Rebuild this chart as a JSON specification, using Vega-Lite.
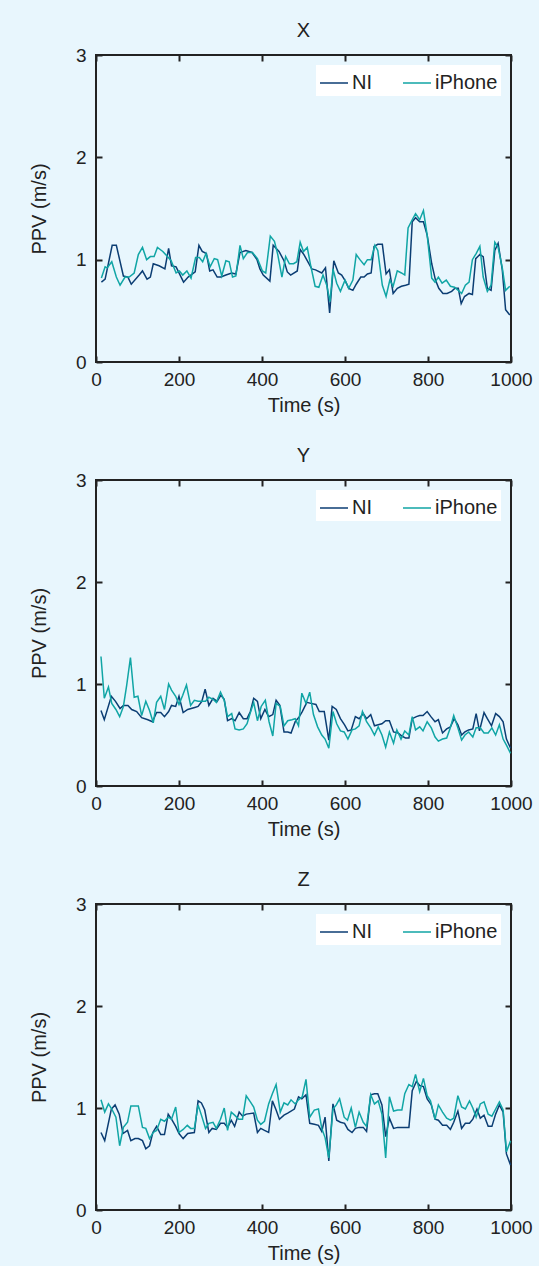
{
"$schema": "https://vega.github.io/schema/vega-lite/v6.json",
"background": "#e8f6fd",
"padding": {"left": 28, "top": 20, "right": 5, "bottom": 2},
"spacing": 29,
"config": {
  "font": "Liberation Sans",
  "view": {"stroke": "#222222", "strokeWidth": 2, "fill": "#e8f6fd"},
  "axis": {"grid": false, "domain": false, "tickColor": "#222222", "tickWidth": 2, "tickSize": -6, "labelFont": "Liberation Sans", "labelFontSize": 19, "labelColor": "#222222", "titleFont": "Liberation Sans", "titleFontSize": 20, "titleFontWeight": "normal", "titleColor": "#222222"},
  "title": {"font": "Liberation Sans", "fontSize": 20, "fontWeight": "normal", "color": "#222222", "offset": 5, "anchor": "middle", "frame": "group"},
  "legend": {"orient": "top-right", "direction": "horizontal", "fillColor": "white", "padding": 3, "offset": 10, "symbolType": "stroke", "symbolSize": 784, "symbolStrokeWidth": 1.5, "labelFont": "Liberation Sans", "labelFontSize": 20, "labelColor": "#222222", "columnPadding": 28, "labelOffset": 3}
},
"datasets": {
"X": [
{"series":"NI","time":13,"ppv":0.78},{"series":"NI","time":22,"ppv":0.81},{"series":"NI","time":39,"ppv":1.14},{"series":"NI","time":49,"ppv":1.14},{"series":"NI","time":66,"ppv":0.84},{"series":"NI","time":77,"ppv":0.83},{"series":"NI","time":85,"ppv":0.76},{"series":"NI","time":104,"ppv":0.85},{"series":"NI","time":112,"ppv":0.89},{"series":"NI","time":123,"ppv":0.81},{"series":"NI","time":131,"ppv":0.83},{"series":"NI","time":138,"ppv":0.96},{"series":"NI","time":152,"ppv":0.94},{"series":"NI","time":166,"ppv":0.91},{"series":"NI","time":175,"ppv":1.11},{"series":"NI","time":182,"ppv":0.94},{"series":"NI","time":193,"ppv":0.93},{"series":"NI","time":211,"ppv":0.78},{"series":"NI","time":222,"ppv":0.83},{"series":"NI","time":239,"ppv":0.88},{"series":"NI","time":248,"ppv":1.14},{"series":"NI","time":256,"ppv":1.08},{"series":"NI","time":266,"ppv":1.06},{"series":"NI","time":274,"ppv":0.89},{"series":"NI","time":282,"ppv":0.9},{"series":"NI","time":292,"ppv":0.83},{"series":"NI","time":301,"ppv":0.83},{"series":"NI","time":313,"ppv":0.85},{"series":"NI","time":327,"ppv":0.87},{"series":"NI","time":337,"ppv":0.86},{"series":"NI","time":347,"ppv":1.07},{"series":"NI","time":361,"ppv":1.09},{"series":"NI","time":376,"ppv":1.07},{"series":"NI","time":388,"ppv":1.0},{"series":"NI","time":395,"ppv":0.91},{"series":"NI","time":403,"ppv":0.85},{"series":"NI","time":419,"ppv":0.79},{"series":"NI","time":427,"ppv":1.14},{"series":"NI","time":441,"ppv":1.08},{"series":"NI","time":453,"ppv":0.99},{"series":"NI","time":461,"ppv":0.88},{"series":"NI","time":469,"ppv":0.85},{"series":"NI","time":485,"ppv":0.89},{"series":"NI","time":492,"ppv":1.1},{"series":"NI","time":501,"ppv":1.05},{"series":"NI","time":520,"ppv":0.91},{"series":"NI","time":529,"ppv":0.9},{"series":"NI","time":544,"ppv":0.87},{"series":"NI","time":553,"ppv":0.92},{"series":"NI","time":563,"ppv":0.48},{"series":"NI","time":573,"ppv":0.99},{"series":"NI","time":584,"ppv":0.87},{"series":"NI","time":592,"ppv":0.85},{"series":"NI","time":601,"ppv":0.79},{"series":"NI","time":609,"ppv":0.72},{"series":"NI","time":619,"ppv":0.7},{"series":"NI","time":627,"ppv":0.76},{"series":"NI","time":638,"ppv":0.83},{"series":"NI","time":646,"ppv":0.83},{"series":"NI","time":654,"ppv":0.86},{"series":"NI","time":663,"ppv":0.87},{"series":"NI","time":670,"ppv":1.13},{"series":"NI","time":679,"ppv":1.15},{"series":"NI","time":690,"ppv":1.15},{"series":"NI","time":699,"ppv":0.86},{"series":"NI","time":707,"ppv":0.9},{"series":"NI","time":716,"ppv":0.67},{"series":"NI","time":726,"ppv":0.72},{"series":"NI","time":736,"ppv":0.74},{"series":"NI","time":746,"ppv":0.75},{"series":"NI","time":754,"ppv":0.76},{"series":"NI","time":762,"ppv":1.37},{"series":"NI","time":770,"ppv":1.41},{"series":"NI","time":780,"ppv":1.37},{"series":"NI","time":789,"ppv":1.37},{"series":"NI","time":798,"ppv":1.24},{"series":"NI","time":809,"ppv":0.96},{"series":"NI","time":818,"ppv":0.8},{"series":"NI","time":826,"ppv":0.72},{"series":"NI","time":836,"ppv":0.67},{"series":"NI","time":846,"ppv":0.67},{"series":"NI","time":857,"ppv":0.69},{"series":"NI","time":865,"ppv":0.72},{"series":"NI","time":873,"ppv":0.72},{"series":"NI","time":880,"ppv":0.57},{"series":"NI","time":888,"ppv":0.64},{"series":"NI","time":899,"ppv":0.67},{"series":"NI","time":907,"ppv":0.66},{"series":"NI","time":915,"ppv":1.01},{"series":"NI","time":925,"ppv":1.05},{"series":"NI","time":933,"ppv":1.03},{"series":"NI","time":943,"ppv":0.72},{"series":"NI","time":952,"ppv":0.7},{"series":"NI","time":961,"ppv":1.09},{"series":"NI","time":969,"ppv":1.16},{"series":"NI","time":979,"ppv":0.9},{"series":"NI","time":987,"ppv":0.51},{"series":"NI","time":997,"ppv":0.46},
{"series":"iPhone","time":13,"ppv":0.82},{"series":"iPhone","time":22,"ppv":0.93},{"series":"iPhone","time":27,"ppv":0.92},{"series":"iPhone","time":38,"ppv":0.98},{"series":"iPhone","time":49,"ppv":0.83},{"series":"iPhone","time":58,"ppv":0.75},{"series":"iPhone","time":70,"ppv":0.83},{"series":"iPhone","time":80,"ppv":0.83},{"series":"iPhone","time":92,"ppv":0.87},{"series":"iPhone","time":102,"ppv":1.05},{"series":"iPhone","time":112,"ppv":1.12},{"series":"iPhone","time":122,"ppv":1.0},{"series":"iPhone","time":131,"ppv":1.03},{"series":"iPhone","time":140,"ppv":1.03},{"series":"iPhone","time":148,"ppv":1.12},{"series":"iPhone","time":161,"ppv":1.08},{"series":"iPhone","time":170,"ppv":1.04},{"series":"iPhone","time":181,"ppv":0.99},{"series":"iPhone","time":193,"ppv":0.87},{"series":"iPhone","time":201,"ppv":0.89},{"series":"iPhone","time":209,"ppv":0.85},{"series":"iPhone","time":219,"ppv":0.89},{"series":"iPhone","time":229,"ppv":0.82},{"series":"iPhone","time":240,"ppv":1.02},{"series":"iPhone","time":249,"ppv":1.02},{"series":"iPhone","time":257,"ppv":0.98},{"series":"iPhone","time":265,"ppv":1.06},{"series":"iPhone","time":275,"ppv":0.93},{"series":"iPhone","time":285,"ppv":1.01},{"series":"iPhone","time":293,"ppv":1.0},{"series":"iPhone","time":303,"ppv":0.84},{"series":"iPhone","time":313,"ppv":0.99},{"series":"iPhone","time":321,"ppv":0.98},{"series":"iPhone","time":329,"ppv":0.83},{"series":"iPhone","time":337,"ppv":0.84},{"series":"iPhone","time":347,"ppv":1.14},{"series":"iPhone","time":355,"ppv":1.01},{"series":"iPhone","time":365,"ppv":1.07},{"series":"iPhone","time":377,"ppv":1.07},{"series":"iPhone","time":389,"ppv":1.01},{"series":"iPhone","time":401,"ppv":0.89},{"series":"iPhone","time":409,"ppv":0.87},{"series":"iPhone","time":420,"ppv":1.23},{"series":"iPhone","time":430,"ppv":1.18},{"series":"iPhone","time":438,"ppv":1.05},{"series":"iPhone","time":448,"ppv":0.83},{"series":"iPhone","time":457,"ppv":1.03},{"series":"iPhone","time":466,"ppv":0.96},{"series":"iPhone","time":476,"ppv":0.96},{"series":"iPhone","time":484,"ppv":0.98},{"series":"iPhone","time":492,"ppv":1.17},{"series":"iPhone","time":500,"ppv":1.08},{"series":"iPhone","time":509,"ppv":1.12},{"series":"iPhone","time":517,"ppv":0.95},{"series":"iPhone","time":528,"ppv":0.74},{"series":"iPhone","time":537,"ppv":0.73},{"series":"iPhone","time":547,"ppv":0.85},{"series":"iPhone","time":556,"ppv":0.75},{"series":"iPhone","time":564,"ppv":0.59},{"series":"iPhone","time":571,"ppv":0.91},{"series":"iPhone","time":580,"ppv":0.77},{"series":"iPhone","time":589,"ppv":0.69},{"series":"iPhone","time":600,"ppv":0.8},{"series":"iPhone","time":609,"ppv":0.72},{"series":"iPhone","time":619,"ppv":0.8},{"series":"iPhone","time":627,"ppv":1.05},{"series":"iPhone","time":636,"ppv":1.0},{"series":"iPhone","time":646,"ppv":0.95},{"series":"iPhone","time":654,"ppv":1.0},{"series":"iPhone","time":663,"ppv":1.0},{"series":"iPhone","time":672,"ppv":1.14},{"series":"iPhone","time":679,"ppv":1.09},{"series":"iPhone","time":690,"ppv":0.75},{"series":"iPhone","time":699,"ppv":0.64},{"series":"iPhone","time":708,"ppv":0.8},{"series":"iPhone","time":716,"ppv":0.74},{"series":"iPhone","time":726,"ppv":0.89},{"series":"iPhone","time":736,"ppv":0.87},{"series":"iPhone","time":744,"ppv":0.85},{"series":"iPhone","time":752,"ppv":1.31},{"series":"iPhone","time":762,"ppv":1.39},{"series":"iPhone","time":770,"ppv":1.45},{"series":"iPhone","time":780,"ppv":1.39},{"series":"iPhone","time":789,"ppv":1.48},{"series":"iPhone","time":798,"ppv":1.24},{"series":"iPhone","time":809,"ppv":0.82},{"series":"iPhone","time":817,"ppv":0.78},{"series":"iPhone","time":825,"ppv":0.83},{"series":"iPhone","time":834,"ppv":0.77},{"series":"iPhone","time":844,"ppv":0.8},{"series":"iPhone","time":854,"ppv":0.74},{"series":"iPhone","time":864,"ppv":0.73},{"series":"iPhone","time":873,"ppv":0.7},{"series":"iPhone","time":881,"ppv":0.67},{"series":"iPhone","time":890,"ppv":0.75},{"series":"iPhone","time":899,"ppv":0.78},{"series":"iPhone","time":907,"ppv":1.0},{"series":"iPhone","time":916,"ppv":1.06},{"series":"iPhone","time":925,"ppv":1.13},{"series":"iPhone","time":933,"ppv":0.83},{"series":"iPhone","time":943,"ppv":0.69},{"series":"iPhone","time":952,"ppv":0.75},{"series":"iPhone","time":961,"ppv":1.17},{"series":"iPhone","time":969,"ppv":1.12},{"series":"iPhone","time":979,"ppv":0.92},{"series":"iPhone","time":987,"ppv":0.7},{"series":"iPhone","time":997,"ppv":0.74}
],
"Y": [
{"series":"NI","time":12,"ppv":0.74},{"series":"NI","time":20,"ppv":0.65},{"series":"NI","time":37,"ppv":0.88},{"series":"NI","time":47,"ppv":0.83},{"series":"NI","time":58,"ppv":0.76},{"series":"NI","time":66,"ppv":0.79},{"series":"NI","time":77,"ppv":0.79},{"series":"NI","time":86,"ppv":0.75},{"series":"NI","time":98,"ppv":0.73},{"series":"NI","time":110,"ppv":0.67},{"series":"NI","time":125,"ppv":0.65},{"series":"NI","time":136,"ppv":0.63},{"series":"NI","time":146,"ppv":0.72},{"series":"NI","time":156,"ppv":0.72},{"series":"NI","time":165,"ppv":0.68},{"series":"NI","time":175,"ppv":0.73},{"series":"NI","time":182,"ppv":0.79},{"series":"NI","time":192,"ppv":0.78},{"series":"NI","time":200,"ppv":0.88},{"series":"NI","time":210,"ppv":0.72},{"series":"NI","time":221,"ppv":0.75},{"series":"NI","time":238,"ppv":0.77},{"series":"NI","time":246,"ppv":0.78},{"series":"NI","time":255,"ppv":0.83},{"series":"NI","time":263,"ppv":0.95},{"series":"NI","time":272,"ppv":0.79},{"series":"NI","time":282,"ppv":0.86},{"series":"NI","time":292,"ppv":0.83},{"series":"NI","time":301,"ppv":0.89},{"series":"NI","time":309,"ppv":0.85},{"series":"NI","time":317,"ppv":0.64},{"series":"NI","time":327,"ppv":0.66},{"series":"NI","time":335,"ppv":0.64},{"series":"NI","time":345,"ppv":0.72},{"series":"NI","time":355,"ppv":0.66},{"series":"NI","time":364,"ppv":0.66},{"series":"NI","time":372,"ppv":0.73},{"series":"NI","time":380,"ppv":0.86},{"series":"NI","time":389,"ppv":0.83},{"series":"NI","time":397,"ppv":0.66},{"series":"NI","time":407,"ppv":0.75},{"series":"NI","time":416,"ppv":0.68},{"series":"NI","time":426,"ppv":0.7},{"series":"NI","time":434,"ppv":0.84},{"series":"NI","time":443,"ppv":0.79},{"series":"NI","time":453,"ppv":0.53},{"series":"NI","time":462,"ppv":0.53},{"series":"NI","time":470,"ppv":0.52},{"series":"NI","time":480,"ppv":0.63},{"series":"NI","time":490,"ppv":0.68},{"series":"NI","time":497,"ppv":0.73},{"series":"NI","time":508,"ppv":0.82},{"series":"NI","time":518,"ppv":0.81},{"series":"NI","time":530,"ppv":0.8},{"series":"NI","time":538,"ppv":0.73},{"series":"NI","time":550,"ppv":0.73},{"series":"NI","time":561,"ppv":0.45},{"series":"NI","time":569,"ppv":0.78},{"series":"NI","time":579,"ppv":0.75},{"series":"NI","time":589,"ppv":0.66},{"series":"NI","time":599,"ppv":0.6},{"series":"NI","time":607,"ppv":0.54},{"series":"NI","time":615,"ppv":0.55},{"series":"NI","time":625,"ppv":0.68},{"series":"NI","time":634,"ppv":0.66},{"series":"NI","time":644,"ppv":0.71},{"series":"NI","time":652,"ppv":0.66},{"series":"NI","time":662,"ppv":0.7},{"series":"NI","time":671,"ppv":0.59},{"series":"NI","time":680,"ppv":0.6},{"series":"NI","time":689,"ppv":0.61},{"series":"NI","time":698,"ppv":0.64},{"series":"NI","time":707,"ppv":0.64},{"series":"NI","time":717,"ppv":0.53},{"series":"NI","time":728,"ppv":0.52},{"series":"NI","time":737,"ppv":0.49},{"series":"NI","time":746,"ppv":0.47},{"series":"NI","time":754,"ppv":0.47},{"series":"NI","time":762,"ppv":0.66},{"series":"NI","time":772,"ppv":0.68},{"series":"NI","time":780,"ppv":0.69},{"series":"NI","time":788,"ppv":0.69},{"series":"NI","time":798,"ppv":0.73},{"series":"NI","time":807,"ppv":0.68},{"series":"NI","time":817,"ppv":0.63},{"series":"NI","time":825,"ppv":0.65},{"series":"NI","time":835,"ppv":0.52},{"series":"NI","time":845,"ppv":0.56},{"series":"NI","time":854,"ppv":0.58},{"series":"NI","time":863,"ppv":0.66},{"series":"NI","time":872,"ppv":0.6},{"series":"NI","time":881,"ppv":0.5},{"series":"NI","time":889,"ppv":0.53},{"series":"NI","time":898,"ppv":0.55},{"series":"NI","time":908,"ppv":0.56},{"series":"NI","time":916,"ppv":0.71},{"series":"NI","time":924,"ppv":0.54},{"series":"NI","time":935,"ppv":0.72},{"series":"NI","time":943,"ppv":0.66},{"series":"NI","time":953,"ppv":0.59},{"series":"NI","time":963,"ppv":0.71},{"series":"NI","time":972,"ppv":0.68},{"series":"NI","time":981,"ppv":0.63},{"series":"NI","time":989,"ppv":0.46},{"series":"NI","time":999,"ppv":0.37},
{"series":"iPhone","time":12,"ppv":1.27},{"series":"iPhone","time":20,"ppv":0.86},{"series":"iPhone","time":30,"ppv":0.97},{"series":"iPhone","time":38,"ppv":0.81},{"series":"iPhone","time":48,"ppv":0.75},{"series":"iPhone","time":57,"ppv":0.68},{"series":"iPhone","time":66,"ppv":0.78},{"series":"iPhone","time":74,"ppv":0.99},{"series":"iPhone","time":83,"ppv":1.26},{"series":"iPhone","time":92,"ppv":0.87},{"series":"iPhone","time":101,"ppv":0.88},{"series":"iPhone","time":110,"ppv":0.69},{"series":"iPhone","time":120,"ppv":0.83},{"series":"iPhone","time":129,"ppv":0.74},{"series":"iPhone","time":138,"ppv":0.62},{"series":"iPhone","time":146,"ppv":0.82},{"series":"iPhone","time":156,"ppv":0.88},{"series":"iPhone","time":165,"ppv":0.75},{"series":"iPhone","time":175,"ppv":1.0},{"series":"iPhone","time":182,"ppv":0.94},{"series":"iPhone","time":192,"ppv":0.88},{"series":"iPhone","time":200,"ppv":0.8},{"series":"iPhone","time":209,"ppv":0.89},{"series":"iPhone","time":218,"ppv":0.99},{"series":"iPhone","time":228,"ppv":0.79},{"series":"iPhone","time":237,"ppv":0.84},{"series":"iPhone","time":246,"ppv":0.83},{"series":"iPhone","time":255,"ppv":0.83},{"series":"iPhone","time":264,"ppv":0.83},{"series":"iPhone","time":272,"ppv":0.87},{"series":"iPhone","time":282,"ppv":0.85},{"series":"iPhone","time":290,"ppv":0.82},{"series":"iPhone","time":300,"ppv":0.92},{"series":"iPhone","time":309,"ppv":0.84},{"series":"iPhone","time":317,"ppv":0.68},{"series":"iPhone","time":327,"ppv":0.71},{"series":"iPhone","time":335,"ppv":0.56},{"series":"iPhone","time":345,"ppv":0.55},{"series":"iPhone","time":355,"ppv":0.56},{"series":"iPhone","time":364,"ppv":0.61},{"series":"iPhone","time":372,"ppv":0.72},{"series":"iPhone","time":380,"ppv":0.82},{"series":"iPhone","time":389,"ppv":0.64},{"series":"iPhone","time":398,"ppv":0.78},{"series":"iPhone","time":408,"ppv":0.84},{"series":"iPhone","time":417,"ppv":0.63},{"series":"iPhone","time":426,"ppv":0.49},{"series":"iPhone","time":434,"ppv":0.81},{"series":"iPhone","time":444,"ppv":0.78},{"series":"iPhone","time":453,"ppv":0.59},{"series":"iPhone","time":462,"ppv":0.64},{"series":"iPhone","time":472,"ppv":0.65},{"series":"iPhone","time":480,"ppv":0.66},{"series":"iPhone","time":488,"ppv":0.59},{"series":"iPhone","time":496,"ppv":0.91},{"series":"iPhone","time":506,"ppv":0.81},{"series":"iPhone","time":515,"ppv":0.92},{"series":"iPhone","time":524,"ppv":0.7},{"series":"iPhone","time":534,"ppv":0.58},{"series":"iPhone","time":544,"ppv":0.5},{"series":"iPhone","time":552,"ppv":0.46},{"series":"iPhone","time":561,"ppv":0.37},{"series":"iPhone","time":571,"ppv":0.73},{"series":"iPhone","time":580,"ppv":0.61},{"series":"iPhone","time":589,"ppv":0.54},{"series":"iPhone","time":598,"ppv":0.53},{"series":"iPhone","time":607,"ppv":0.46},{"series":"iPhone","time":617,"ppv":0.55},{"series":"iPhone","time":625,"ppv":0.56},{"series":"iPhone","time":634,"ppv":0.59},{"series":"iPhone","time":642,"ppv":0.73},{"series":"iPhone","time":652,"ppv":0.63},{"series":"iPhone","time":662,"ppv":0.57},{"series":"iPhone","time":671,"ppv":0.5},{"series":"iPhone","time":680,"ppv":0.58},{"series":"iPhone","time":689,"ppv":0.5},{"series":"iPhone","time":698,"ppv":0.38},{"series":"iPhone","time":707,"ppv":0.53},{"series":"iPhone","time":717,"ppv":0.42},{"series":"iPhone","time":725,"ppv":0.55},{"series":"iPhone","time":735,"ppv":0.46},{"series":"iPhone","time":744,"ppv":0.54},{"series":"iPhone","time":754,"ppv":0.5},{"series":"iPhone","time":762,"ppv":0.68},{"series":"iPhone","time":770,"ppv":0.55},{"series":"iPhone","time":780,"ppv":0.58},{"series":"iPhone","time":788,"ppv":0.54},{"series":"iPhone","time":798,"ppv":0.63},{"series":"iPhone","time":808,"ppv":0.57},{"series":"iPhone","time":817,"ppv":0.48},{"series":"iPhone","time":825,"ppv":0.44},{"series":"iPhone","time":835,"ppv":0.46},{"series":"iPhone","time":845,"ppv":0.47},{"series":"iPhone","time":853,"ppv":0.56},{"series":"iPhone","time":862,"ppv":0.69},{"series":"iPhone","time":872,"ppv":0.57},{"series":"iPhone","time":881,"ppv":0.45},{"series":"iPhone","time":889,"ppv":0.5},{"series":"iPhone","time":898,"ppv":0.53},{"series":"iPhone","time":908,"ppv":0.48},{"series":"iPhone","time":916,"ppv":0.57},{"series":"iPhone","time":926,"ppv":0.57},{"series":"iPhone","time":935,"ppv":0.52},{"series":"iPhone","time":945,"ppv":0.52},{"series":"iPhone","time":954,"ppv":0.57},{"series":"iPhone","time":963,"ppv":0.5},{"series":"iPhone","time":972,"ppv":0.6},{"series":"iPhone","time":981,"ppv":0.46},{"series":"iPhone","time":989,"ppv":0.4},{"series":"iPhone","time":999,"ppv":0.32}
],
"Z": [
{"series":"NI","time":12,"ppv":0.76},{"series":"NI","time":21,"ppv":0.68},{"series":"NI","time":37,"ppv":0.99},{"series":"NI","time":46,"ppv":1.03},{"series":"NI","time":56,"ppv":0.94},{"series":"NI","time":65,"ppv":0.75},{"series":"NI","time":76,"ppv":0.78},{"series":"NI","time":84,"ppv":0.68},{"series":"NI","time":94,"ppv":0.7},{"series":"NI","time":102,"ppv":0.7},{"series":"NI","time":112,"ppv":0.68},{"series":"NI","time":120,"ppv":0.6},{"series":"NI","time":129,"ppv":0.63},{"series":"NI","time":137,"ppv":0.76},{"series":"NI","time":146,"ppv":0.82},{"series":"NI","time":156,"ppv":0.74},{"series":"NI","time":165,"ppv":0.74},{"series":"NI","time":174,"ppv":0.94},{"series":"NI","time":182,"ppv":0.89},{"series":"NI","time":192,"ppv":0.82},{"series":"NI","time":200,"ppv":0.75},{"series":"NI","time":210,"ppv":0.7},{"series":"NI","time":221,"ppv":0.75},{"series":"NI","time":237,"ppv":0.76},{"series":"NI","time":246,"ppv":1.07},{"series":"NI","time":254,"ppv":1.05},{"series":"NI","time":262,"ppv":0.98},{"series":"NI","time":272,"ppv":0.76},{"series":"NI","time":280,"ppv":0.8},{"series":"NI","time":290,"ppv":0.79},{"series":"NI","time":300,"ppv":0.85},{"series":"NI","time":309,"ppv":0.85},{"series":"NI","time":317,"ppv":0.81},{"series":"NI","time":326,"ppv":0.88},{"series":"NI","time":334,"ppv":0.82},{"series":"NI","time":345,"ppv":0.96},{"series":"NI","time":353,"ppv":0.92},{"series":"NI","time":362,"ppv":0.94},{"series":"NI","time":380,"ppv":0.95},{"series":"NI","time":389,"ppv":0.76},{"series":"NI","time":397,"ppv":0.8},{"series":"NI","time":406,"ppv":0.78},{"series":"NI","time":416,"ppv":0.76},{"series":"NI","time":425,"ppv":1.07},{"series":"NI","time":434,"ppv":0.98},{"series":"NI","time":442,"ppv":0.89},{"series":"NI","time":453,"ppv":0.93},{"series":"NI","time":462,"ppv":0.95},{"series":"NI","time":478,"ppv":0.99},{"series":"NI","time":488,"ppv":1.11},{"series":"NI","time":496,"ppv":1.09},{"series":"NI","time":506,"ppv":1.13},{"series":"NI","time":515,"ppv":0.85},{"series":"NI","time":526,"ppv":0.84},{"series":"NI","time":536,"ppv":0.83},{"series":"NI","time":544,"ppv":0.77},{"series":"NI","time":552,"ppv":0.91},{"series":"NI","time":561,"ppv":0.48},{"series":"NI","time":571,"ppv":1.04},{"series":"NI","time":580,"ppv":0.88},{"series":"NI","time":589,"ppv":0.86},{"series":"NI","time":599,"ppv":0.85},{"series":"NI","time":607,"ppv":0.79},{"series":"NI","time":617,"ppv":0.76},{"series":"NI","time":625,"ppv":0.8},{"series":"NI","time":634,"ppv":0.81},{"series":"NI","time":644,"ppv":0.81},{"series":"NI","time":652,"ppv":0.77},{"series":"NI","time":662,"ppv":1.13},{"series":"NI","time":671,"ppv":1.14},{"series":"NI","time":679,"ppv":1.14},{"series":"NI","time":689,"ppv":1.03},{"series":"NI","time":698,"ppv":0.72},{"series":"NI","time":707,"ppv":0.9},{"series":"NI","time":717,"ppv":0.8},{"series":"NI","time":727,"ppv":0.81},{"series":"NI","time":737,"ppv":0.81},{"series":"NI","time":746,"ppv":0.81},{"series":"NI","time":754,"ppv":0.81},{"series":"NI","time":762,"ppv":1.17},{"series":"NI","time":772,"ppv":1.26},{"series":"NI","time":780,"ppv":1.22},{"series":"NI","time":789,"ppv":1.21},{"series":"NI","time":798,"ppv":1.09},{"series":"NI","time":808,"ppv":1.03},{"series":"NI","time":817,"ppv":0.89},{"series":"NI","time":825,"ppv":0.88},{"series":"NI","time":835,"ppv":0.83},{"series":"NI","time":845,"ppv":0.83},{"series":"NI","time":854,"ppv":0.79},{"series":"NI","time":862,"ppv":0.86},{"series":"NI","time":872,"ppv":0.97},{"series":"NI","time":881,"ppv":0.8},{"series":"NI","time":890,"ppv":0.85},{"series":"NI","time":900,"ppv":0.85},{"series":"NI","time":908,"ppv":0.89},{"series":"NI","time":918,"ppv":0.99},{"series":"NI","time":926,"ppv":0.9},{"series":"NI","time":935,"ppv":0.93},{"series":"NI","time":945,"ppv":0.82},{"series":"NI","time":954,"ppv":0.82},{"series":"NI","time":963,"ppv":0.94},{"series":"NI","time":972,"ppv":1.03},{"series":"NI","time":981,"ppv":0.96},{"series":"NI","time":989,"ppv":0.55},{"series":"NI","time":999,"ppv":0.44},
{"series":"iPhone","time":12,"ppv":1.08},{"series":"iPhone","time":21,"ppv":0.96},{"series":"iPhone","time":30,"ppv":1.04},{"series":"iPhone","time":38,"ppv":0.99},{"series":"iPhone","time":48,"ppv":0.91},{"series":"iPhone","time":57,"ppv":0.63},{"series":"iPhone","time":66,"ppv":0.81},{"series":"iPhone","time":76,"ppv":0.86},{"series":"iPhone","time":84,"ppv":1.02},{"series":"iPhone","time":93,"ppv":1.02},{"series":"iPhone","time":102,"ppv":1.02},{"series":"iPhone","time":112,"ppv":0.81},{"series":"iPhone","time":120,"ppv":0.8},{"series":"iPhone","time":129,"ppv":0.7},{"series":"iPhone","time":138,"ppv":0.76},{"series":"iPhone","time":146,"ppv":0.78},{"series":"iPhone","time":156,"ppv":0.89},{"series":"iPhone","time":165,"ppv":0.87},{"series":"iPhone","time":174,"ppv":0.91},{"series":"iPhone","time":182,"ppv":0.89},{"series":"iPhone","time":192,"ppv":1.01},{"series":"iPhone","time":200,"ppv":0.76},{"series":"iPhone","time":210,"ppv":0.79},{"series":"iPhone","time":220,"ppv":0.83},{"series":"iPhone","time":228,"ppv":0.8},{"series":"iPhone","time":237,"ppv":0.8},{"series":"iPhone","time":246,"ppv":1.03},{"series":"iPhone","time":254,"ppv":0.93},{"series":"iPhone","time":264,"ppv":0.8},{"series":"iPhone","time":272,"ppv":0.85},{"series":"iPhone","time":282,"ppv":0.86},{"series":"iPhone","time":290,"ppv":0.8},{"series":"iPhone","time":300,"ppv":0.89},{"series":"iPhone","time":309,"ppv":1.0},{"series":"iPhone","time":317,"ppv":0.78},{"series":"iPhone","time":326,"ppv":0.96},{"series":"iPhone","time":334,"ppv":0.93},{"series":"iPhone","time":344,"ppv":0.89},{"series":"iPhone","time":353,"ppv":0.89},{"series":"iPhone","time":362,"ppv":1.12},{"series":"iPhone","time":372,"ppv":1.06},{"series":"iPhone","time":380,"ppv":1.01},{"series":"iPhone","time":389,"ppv":0.88},{"series":"iPhone","time":397,"ppv":0.84},{"series":"iPhone","time":406,"ppv":0.87},{"series":"iPhone","time":416,"ppv":1.04},{"series":"iPhone","time":425,"ppv":1.14},{"series":"iPhone","time":434,"ppv":1.23},{"series":"iPhone","time":444,"ppv":0.96},{"series":"iPhone","time":453,"ppv":1.05},{"series":"iPhone","time":462,"ppv":1.03},{"series":"iPhone","time":470,"ppv":1.08},{"series":"iPhone","time":480,"ppv":1.04},{"series":"iPhone","time":488,"ppv":1.08},{"series":"iPhone","time":497,"ppv":1.11},{"series":"iPhone","time":506,"ppv":1.28},{"series":"iPhone","time":515,"ppv":0.91},{"series":"iPhone","time":526,"ppv":0.98},{"series":"iPhone","time":536,"ppv":0.99},{"series":"iPhone","time":544,"ppv":0.8},{"series":"iPhone","time":552,"ppv":0.71},{"series":"iPhone","time":561,"ppv":0.51},{"series":"iPhone","time":571,"ppv":0.99},{"series":"iPhone","time":579,"ppv":1.03},{"series":"iPhone","time":587,"ppv":1.09},{"series":"iPhone","time":598,"ppv":0.91},{"series":"iPhone","time":606,"ppv":0.88},{"series":"iPhone","time":615,"ppv":1.0},{"series":"iPhone","time":625,"ppv":0.81},{"series":"iPhone","time":634,"ppv":0.96},{"series":"iPhone","time":644,"ppv":0.86},{"series":"iPhone","time":652,"ppv":0.82},{"series":"iPhone","time":662,"ppv":1.13},{"series":"iPhone","time":671,"ppv":1.04},{"series":"iPhone","time":680,"ppv":1.07},{"series":"iPhone","time":689,"ppv":0.94},{"series":"iPhone","time":698,"ppv":0.51},{"series":"iPhone","time":707,"ppv":1.11},{"series":"iPhone","time":717,"ppv":0.97},{"series":"iPhone","time":727,"ppv":0.98},{"series":"iPhone","time":737,"ppv":0.98},{"series":"iPhone","time":744,"ppv":1.14},{"series":"iPhone","time":754,"ppv":1.23},{"series":"iPhone","time":762,"ppv":1.21},{"series":"iPhone","time":770,"ppv":1.33},{"series":"iPhone","time":780,"ppv":1.16},{"series":"iPhone","time":789,"ppv":1.29},{"series":"iPhone","time":798,"ppv":1.12},{"series":"iPhone","time":806,"ppv":1.07},{"series":"iPhone","time":817,"ppv":0.89},{"series":"iPhone","time":825,"ppv":1.03},{"series":"iPhone","time":835,"ppv":0.96},{"series":"iPhone","time":845,"ppv":0.9},{"series":"iPhone","time":854,"ppv":0.88},{"series":"iPhone","time":862,"ppv":0.9},{"series":"iPhone","time":872,"ppv":1.12},{"series":"iPhone","time":881,"ppv":1.01},{"series":"iPhone","time":890,"ppv":0.99},{"series":"iPhone","time":900,"ppv":1.07},{"series":"iPhone","time":908,"ppv":1.0},{"series":"iPhone","time":916,"ppv":0.91},{"series":"iPhone","time":926,"ppv":1.04},{"series":"iPhone","time":935,"ppv":1.06},{"series":"iPhone","time":945,"ppv":0.94},{"series":"iPhone","time":954,"ppv":0.92},{"series":"iPhone","time":963,"ppv":0.99},{"series":"iPhone","time":972,"ppv":1.06},{"series":"iPhone","time":981,"ppv":0.98},{"series":"iPhone","time":989,"ppv":0.57},{"series":"iPhone","time":999,"ppv":0.68}
]
},
"vconcat": [
{
  "title": "X", "width": 415, "height": 307, "data": {"name": "X"},
  "layer": [
    {"mark": {"type": "line", "strokeWidth": 1.5},
     "encoding": {
       "x": {"field": "time", "type": "quantitative", "scale": {"domain": [0, 1000], "nice": false}, "axis": {"orient": "bottom", "values": [0,200,400,600,800,1000], "format": "d", "title": "Time (s)", "labelPadding": 14, "titlePadding": 6, "labelFlush": false}},
       "y": {"field": "ppv", "type": "quantitative", "scale": {"domain": [0, 3], "nice": false}, "axis": {"orient": "left", "values": [0,1,2,3], "title": "PPV (m/s)", "labelPadding": 16, "titlePadding": 26}},
       "color": {"field": "series", "type": "nominal", "scale": {"domain": ["NI", "iPhone"], "range": ["#0b3d73", "#10a5a5"]}, "legend": {"title": null}}
     }},
    {"mark": {"type": "line", "opacity": 0},
     "encoding": {
       "x": {"field": "time", "type": "quantitative", "axis": {"orient": "top", "values": [0,200,400,600,800,1000], "labels": false, "title": null}},
       "y": {"field": "ppv", "type": "quantitative", "axis": {"orient": "right", "values": [0,1,2,3], "labels": false, "title": null}}
     }}
  ]
},
{
  "title": "Y", "width": 415, "height": 306, "data": {"name": "Y"},
  "layer": [
    {"mark": {"type": "line", "strokeWidth": 1.5},
     "encoding": {
       "x": {"field": "time", "type": "quantitative", "scale": {"domain": [0, 1000], "nice": false}, "axis": {"orient": "bottom", "values": [0,200,400,600,800,1000], "format": "d", "title": "Time (s)", "labelPadding": 14, "titlePadding": 6, "labelFlush": false}},
       "y": {"field": "ppv", "type": "quantitative", "scale": {"domain": [0, 3], "nice": false}, "axis": {"orient": "left", "values": [0,1,2,3], "title": "PPV (m/s)", "labelPadding": 16, "titlePadding": 26}},
       "color": {"field": "series", "type": "nominal", "scale": {"domain": ["NI", "iPhone"], "range": ["#0b3d73", "#10a5a5"]}, "legend": {"title": null}}
     }},
    {"mark": {"type": "line", "opacity": 0},
     "encoding": {
       "x": {"field": "time", "type": "quantitative", "axis": {"orient": "top", "values": [0,200,400,600,800,1000], "labels": false, "title": null}},
       "y": {"field": "ppv", "type": "quantitative", "axis": {"orient": "right", "values": [0,1,2,3], "labels": false, "title": null}}
     }}
  ]
},
{
  "title": "Z", "width": 415, "height": 306, "data": {"name": "Z"},
  "layer": [
    {"mark": {"type": "line", "strokeWidth": 1.5},
     "encoding": {
       "x": {"field": "time", "type": "quantitative", "scale": {"domain": [0, 1000], "nice": false}, "axis": {"orient": "bottom", "values": [0,200,400,600,800,1000], "format": "d", "title": "Time (s)", "labelPadding": 14, "titlePadding": 6, "labelFlush": false}},
       "y": {"field": "ppv", "type": "quantitative", "scale": {"domain": [0, 3], "nice": false}, "axis": {"orient": "left", "values": [0,1,2,3], "title": "PPV (m/s)", "labelPadding": 16, "titlePadding": 26}},
       "color": {"field": "series", "type": "nominal", "scale": {"domain": ["NI", "iPhone"], "range": ["#0b3d73", "#10a5a5"]}, "legend": {"title": null}}
     }},
    {"mark": {"type": "line", "opacity": 0},
     "encoding": {
       "x": {"field": "time", "type": "quantitative", "axis": {"orient": "top", "values": [0,200,400,600,800,1000], "labels": false, "title": null}},
       "y": {"field": "ppv", "type": "quantitative", "axis": {"orient": "right", "values": [0,1,2,3], "labels": false, "title": null}}
     }}
  ]
}
],
"resolve": {"scale": {"color": "independent"}, "legend": {"color": "independent"}}
}
